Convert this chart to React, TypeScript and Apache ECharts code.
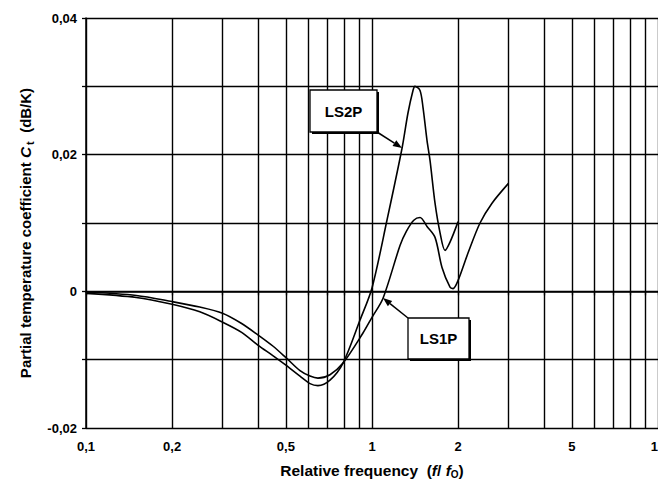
import React, { useEffect, useRef } from 'react';
import * as echarts from 'echarts';

// Axis ticks / labels
const xTickValues = [0.1, 0.2, 0.3, 0.4, 0.5, 0.6, 0.7, 0.8, 0.9, 1, 2, 3, 4, 5, 6, 7, 8, 9, 10];
const xLabelValues = [0.1, 0.2, 0.5, 1, 2, 5, 10];
const xLabelTexts = ['0,1', '0,2', '0,5', '1', '2', '5', '10'];
const yLabelValues = [-0.02, 0, 0.02, 0.04];
const yLabelTexts = ['-0,02', '0', '0,02', '0,04'];
const yAxisTitle = 'Partial temperature coefficient {c|C}{s|t}  (dB/K)';
const xAxisTitle = 'Relative frequency  ({i|f}/ {i|f}{s|O})';

// LS2P series
const ls2pFreq = [0.1, 0.15, 0.2, 0.25, 0.3, 0.35, 0.4, 0.45, 0.5, 0.56, 0.607, 0.647, 0.713, 0.792, 0.908, 1.0, 1.128, 1.273, 1.336, 1.391, 1.413, 1.472, 1.508, 1.557, 1.595, 1.661, 1.729, 1.8, 1.874, 2.0];
const ls2pVal = [-0.0003, -0.0009, -0.0019, -0.003, -0.0045, -0.006, -0.0079, -0.0094, -0.0108, -0.0124, -0.0135, -0.0138, -0.013, -0.0105, -0.0042, 0.0005, 0.0104, 0.0209, 0.0261, 0.0294, 0.03, 0.0294, 0.0269, 0.0221, 0.0192, 0.0129, 0.0086, 0.006, 0.0072, 0.0102];

// LS1P series
const ls1pFreq = [0.1, 0.15, 0.2, 0.25, 0.3, 0.35, 0.4, 0.45, 0.5, 0.56, 0.607, 0.647, 0.713, 0.792, 0.93, 1.0, 1.093, 1.253, 1.32, 1.4, 1.472, 1.557, 1.661, 1.757, 1.874, 1.92, 2.0, 2.166, 2.386, 2.628, 3.0];
const ls1pVal = [-0.0001, -0.0006, -0.0015, -0.0023, -0.0032, -0.0047, -0.0064, -0.008, -0.0097, -0.0116, -0.0124, -0.0127, -0.0122, -0.0105, -0.0061, -0.0038, -0.001, 0.0067, 0.0088, 0.0104, 0.0108, 0.0095, 0.0079, 0.0035, 0.0006, 0.0004, 0.0016, 0.0056, 0.01, 0.0129, 0.0158];

const FONT = '"Liberation Sans", Arial, sans-serif';

function arrow(x1: number, y1: number, x2: number, y2: number) {
  const dx = x2 - x1, dy = y2 - y1;
  const len = Math.sqrt(dx * dx + dy * dy);
  const ux = dx / len, uy = dy / len;
  const hl = 9, hw = 3.5;
  const bx = x2 - ux * hl, by = y2 - uy * hl;
  return [
    { type: 'line', shape: { x1, y1, x2: bx, y2: by }, style: { stroke: '#000', lineWidth: 1.5 }, z: 20 },
    {
      type: 'polygon',
      shape: { points: [[x2, y2], [bx - uy * hw, by + ux * hw], [bx + uy * hw, by - ux * hw]] },
      style: { fill: '#000' },
      z: 20,
    },
  ];
}

function labelBox(x: number, y: number, w: number, h: number, text: string) {
  return [
    { type: 'rect', shape: { x: x + 2, y: y + 2, width: w, height: h }, style: { fill: '#000' }, z: 20 },
    { type: 'rect', shape: { x, y, width: w, height: h }, style: { fill: '#fff', stroke: '#000', lineWidth: 1.3 }, z: 21 },
    {
      type: 'text', x: x + w / 2, y: y + h / 2, z: 22,
      style: { text, font: `bold 15px ${FONT}`, fill: '#000', align: 'center', verticalAlign: 'middle' },
    },
  ];
}

export default function App() {
  const ref = useRef<HTMLDivElement>(null);
  useEffect(() => {
    document.body.style.margin = '0';
    const chart = echarts.init(ref.current!, null, { renderer: 'svg' });
    const gridLine = { show: true, lineStyle: { color: '#000', width: 1.4 } };
    const option: any = {
      animation: false,
      backgroundColor: '#fff',
      grid: { left: 86, right: 0, top: 18, bottom: 51, containLabel: false, outerBoundsMode: 'none' },
      xAxis: {
        type: 'log',
        logBase: 10,
        min: 0.1,
        max: 10,
        name: xAxisTitle,
        nameLocation: 'middle',
        nameGap: 33,
        nameTextStyle: {
          fontFamily: FONT, fontWeight: 'bold', fontSize: 15.5, color: '#000',
          rich: {
            i: { fontFamily: FONT, fontWeight: 'bold', fontStyle: 'italic', fontSize: 15.5, color: '#000' },
            s: { fontFamily: FONT, fontWeight: 'bold', fontSize: 10, color: '#000', padding: [8, 0, 0, 0] },
          },
        },
        axisLine: { show: true, lineStyle: { color: '#000', width: 1.5 } },
        axisTick: { show: true, length: 4, customValues: xTickValues, lineStyle: { color: '#000', width: 1.3 } },
        axisLabel: {
          customValues: xLabelValues,
          margin: 12,
          fontFamily: FONT, fontWeight: 'bold', fontSize: 13, color: '#000',
          formatter: (v: number) => {
            const i = xLabelValues.findIndex((t) => Math.abs(Math.log10(t) - Math.log10(v)) < 1e-6);
            return i >= 0 ? xLabelTexts[i] : '';
          },
        },
        splitLine: gridLine,
      },
      yAxis: {
        type: 'value',
        min: -0.02,
        max: 0.04,
        interval: 0.01,
        axisLine: { show: true, lineStyle: { color: '#000', width: 1.5 } },
        axisTick: { show: true, length: 4, lineStyle: { color: '#000', width: 1.3 } },
        axisLabel: {
          margin: 9,
          fontFamily: FONT, fontWeight: 'bold', fontSize: 13, color: '#000',
          formatter: (v: number) => {
            const i = yLabelValues.findIndex((t) => Math.abs(t - v) < 1e-9);
            return i >= 0 ? yLabelTexts[i] : '';
          },
        },
        splitLine: gridLine,
      },
      series: [
        {
          name: 'LS2P',
          type: 'line',
          data: ls2pFreq.map((f, i) => [f, ls2pVal[i]]),
          smooth: 0.3,
          showSymbol: false,
          lineStyle: { color: '#000', width: 1.6 },
          z: 5,
        },
        {
          name: 'LS1P',
          type: 'line',
          data: ls1pFreq.map((f, i) => [f, ls1pVal[i]]),
          smooth: 0.3,
          showSymbol: false,
          lineStyle: { color: '#000', width: 1.6 },
          z: 5,
        },
      ],
      graphic: [
        {
          type: 'text',
          x: 25,
          y: 233,
          rotation: Math.PI / 2,
          z: 30,
          style: {
            text: yAxisTitle,
            fontFamily: FONT,
            fontWeight: 'bold',
            fontSize: 15,
            fill: '#000',
            align: 'center',
            verticalAlign: 'middle',
            rich: {
              c: { fontFamily: FONT, fontWeight: 'bold', fontStyle: 'italic', fontSize: 15.5, fill: '#000' },
              s: { fontFamily: FONT, fontWeight: 'bold', fontSize: 11, fill: '#000', padding: [9, 0, 0, 2] },
            },
          },
        },
        ...arrow(377, 132, 402, 148),
        ...labelBox(310, 90, 67, 42, 'LS2P'),
        ...arrow(408, 318, 383, 298),
        ...labelBox(408, 318, 61, 41, 'LS1P'),
      ],
    };
    chart.setOption(option);
    return () => chart.dispose();
  }, []);
  return <div ref={ref} style={{ position: 'fixed', left: 0, top: 0, width: 658, height: 479, background: '#fff' }} />;
}
